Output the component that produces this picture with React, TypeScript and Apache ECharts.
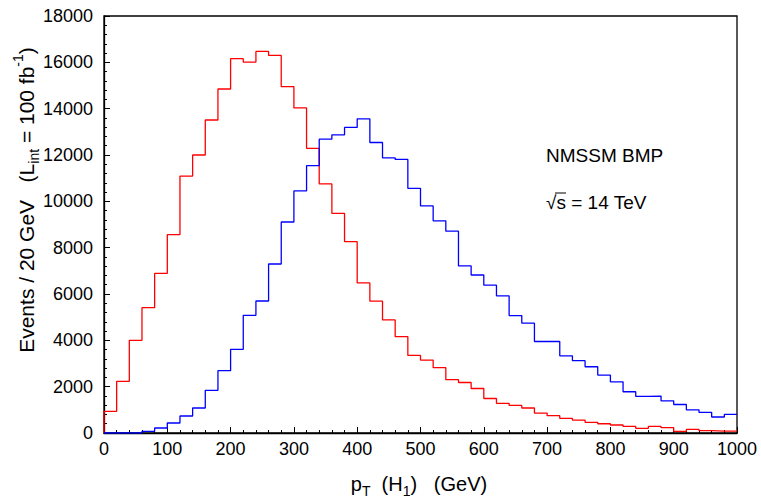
import React, { useEffect, useRef } from "react";
import * as echarts from "echarts";

const binWidth = 20;
const xTicks = { min: 0, max: 1000, interval: 100 };
const yTicks = { min: 0, max: 18000, interval: 2000 };

const redCounts = [935, 2230, 4000, 5410, 6890, 8560, 11090, 12000, 13510, 14850, 16160, 16010, 16470, 16300, 14950, 14030, 12290, 10750, 9480, 8260, 6480, 5690, 4880, 4160, 3350, 3150, 2820, 2300, 2180, 1920, 1490, 1280, 1190, 1080, 860, 750, 630, 560, 460, 400, 345, 285, 200, 285, 230, 70, 155, 100, 85, 85];
const blueCounts = [0, 0, 0, 72, 216, 432, 734, 1079, 1842, 2691, 3612, 5079, 5698, 7295, 9108, 10450, 11540, 12685, 12870, 13190, 13560, 12540, 11880, 11810, 10560, 9800, 9160, 8710, 7210, 6820, 6380, 5920, 5070, 4740, 3950, 3950, 3330, 3120, 2860, 2500, 2210, 1780, 1580, 1595, 1390, 1230, 1000, 890, 690, 800];

const FONT = "'Liberation Sans', Arial, Helvetica, sans-serif";

function toSteps(counts: number[]) {
  const pts: number[][] = [[0, 0]];
  counts.forEach((c, i) => pts.push([i * binWidth, c]));
  pts.push([counts.length * binWidth, counts[counts.length - 1]]);
  return pts;
}

export default function App() {
  const ref = useRef<HTMLDivElement>(null);
  useEffect(() => {
    if (!ref.current) return;
    const chart = echarts.init(ref.current, null, { renderer: "svg" });
    chart.setOption({
      animation: false,
      backgroundColor: "#fff",
      grid: { left: 104, right: 24, top: 16, bottom: 65, show: true, borderColor: "#000", borderWidth: 1.3 },
      xAxis: {
        type: "value",
        min: xTicks.min, max: xTicks.max, interval: xTicks.interval,
        axisLine: { lineStyle: { color: "#000", width: 1.3 } },
        axisTick: { inside: true, length: 6, lineStyle: { color: "#000" } },
        minorTick: { show: true, splitNumber: 5, length: 3, lineStyle: { color: "#000" } },
        splitLine: { show: false },
        axisLabel: { color: "#000", fontSize: 18, fontFamily: FONT, margin: 7, formatter: (v: number) => String(v) },
      },
      yAxis: {
        type: "value",
        min: yTicks.min, max: yTicks.max, interval: yTicks.interval,
        axisLine: { show: true, lineStyle: { color: "#000", width: 1.3 } },
        axisTick: { show: true, inside: true, length: 6, lineStyle: { color: "#000" } },
        minorTick: { show: true, splitNumber: 5, length: 3, lineStyle: { color: "#000" } },
        splitLine: { show: false },
        axisLabel: { color: "#000", fontSize: 18, fontFamily: FONT, margin: 11, formatter: (v: number) => String(v) },
      },
      series: [
        {
          type: "line", step: "end", symbol: "none",
          data: toSteps(redCounts),
          lineStyle: { color: "#ff0000", width: 1.3 },
        },
        {
          type: "line", step: "end", symbol: "none",
          data: toSteps(blueCounts),
          lineStyle: { color: "#0000ff", width: 1.3 },
        },
      ],
      graphic: [
        {
          type: "text", x: 26, y: 200, rotation: Math.PI / 2,
          style: {
            text: "{b|Events / 20 GeV   (L}{sub|int}{b| = 100 fb}{sup|-1}{b|)}",
            align: "center", verticalAlign: "middle",
            rich: {
              b: { fontSize: 21, fontFamily: FONT, fill: "#000", lineHeight: 30 },
              sub: { fontSize: 14, fontFamily: FONT, fill: "#000", verticalAlign: "bottom", lineHeight: 15 },
              sup: { fontSize: 14, fontFamily: FONT, fill: "#000", verticalAlign: "top", lineHeight: 15 },
            },
          },
        },
        {
          type: "text", x: 419, y: 484,
          style: {
            text: "{b|p}{sub|T}{b|  (H}{sub|1}{b|)   (GeV)}",
            align: "center", verticalAlign: "middle",
            rich: {
              b: { fontSize: 20, fontFamily: FONT, fill: "#000", lineHeight: 28 },
              sub: { fontSize: 14, fontFamily: FONT, fill: "#000", verticalAlign: "bottom", lineHeight: 14 },
            },
          },
        },
        {
          type: "text", x: 546, y: 155,
          style: { text: "NMSSM BMP", fontSize: 19, fontFamily: FONT, fill: "#000", verticalAlign: "middle" },
        },
        {
          type: "text", x: 546, y: 202,
          style: { text: "√s = 14 TeV", fontSize: 19, fontFamily: FONT, fill: "#000", verticalAlign: "middle" },
        },
        {
          type: "line", shape: { x1: 555, y1: 193, x2: 566, y2: 193 },
          style: { stroke: "#000", lineWidth: 1 },
        },
      ],
    });
    return () => chart.dispose();
  }, []);
  return <div ref={ref} style={{ position: "fixed", left: 0, top: 0, width: 761, height: 498 }} />;
}
